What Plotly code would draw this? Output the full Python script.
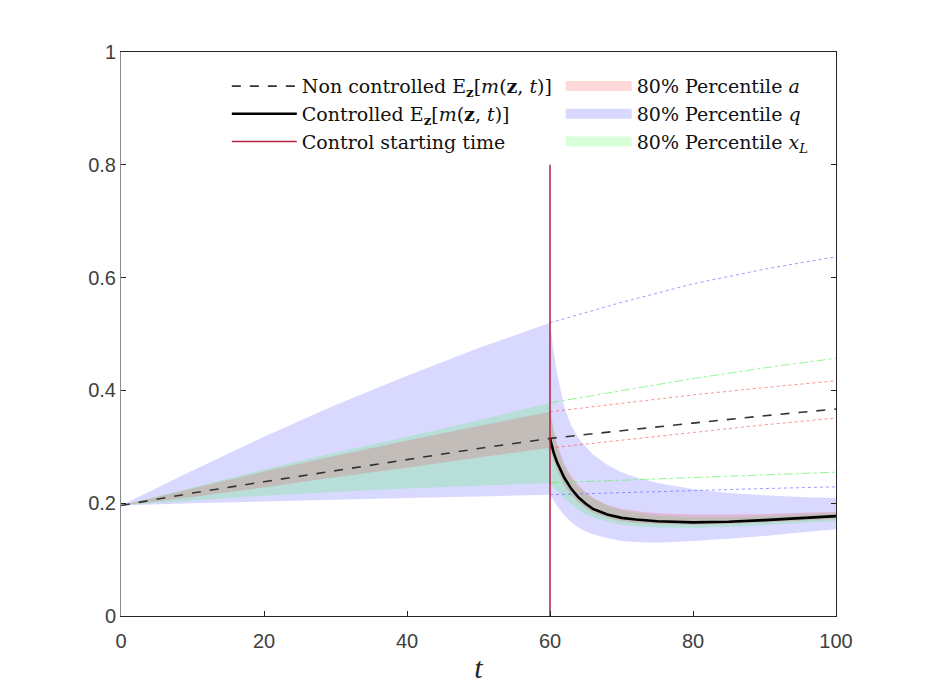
import plotly.graph_objects as go

# time grids
t_open = [0, 10, 20, 30, 40, 50, 60, 70, 80, 90, 100]
t_ctrl = [60, 60.5, 61, 62, 63, 64, 65, 66, 68, 70, 72, 75, 80, 85, 90, 95, 100]
t_start = 60
start_line_y = [0, 0.8]

# non controlled mean and 80% percentiles
m_open = [0.196, 0.218, 0.238, 0.258, 0.278, 0.297, 0.315, 0.329, 0.342, 0.355, 0.367]
a_lo_open = [0.196, 0.211, 0.228, 0.246, 0.263, 0.281, 0.298, 0.312, 0.326, 0.339, 0.351]
a_hi_open = [0.196, 0.226, 0.256, 0.284, 0.311, 0.337, 0.362, 0.377, 0.392, 0.405, 0.417]
q_lo_open = [0.196, 0.200, 0.203, 0.206, 0.209, 0.212, 0.215, 0.219, 0.223, 0.226, 0.229]
q_hi_open = [0.196, 0.258, 0.318, 0.374, 0.426, 0.475, 0.520, 0.556, 0.589, 0.615, 0.637]
xl_lo_open = [0.196, 0.205, 0.213, 0.220, 0.226, 0.231, 0.236, 0.241, 0.246, 0.250, 0.255]
xl_hi_open = [0.196, 0.228, 0.260, 0.290, 0.318, 0.347, 0.378, 0.400, 0.421, 0.440, 0.457]

# controlled mean and 80% percentiles
m_ctrl = [0.315, 0.290, 0.272, 0.245, 0.225, 0.210, 0.199, 0.190, 0.180, 0.174, 0.171,
          0.168, 0.166, 0.167, 0.170, 0.173, 0.177]
a_lo_ctrl = [0.298, 0.275, 0.258, 0.232, 0.214, 0.201, 0.191, 0.183, 0.174, 0.168, 0.165,
             0.163, 0.162, 0.163, 0.166, 0.169, 0.172]
a_hi_ctrl = [0.362, 0.330, 0.305, 0.270, 0.248, 0.232, 0.220, 0.210, 0.197, 0.190, 0.186,
             0.182, 0.180, 0.180, 0.181, 0.183, 0.185]
q_lo_ctrl = [0.215, 0.205, 0.195, 0.178, 0.166, 0.157, 0.150, 0.145, 0.138, 0.133, 0.131,
             0.130, 0.133, 0.137, 0.142, 0.148, 0.154]
q_hi_ctrl = [0.520, 0.470, 0.430, 0.370, 0.337, 0.315, 0.300, 0.287, 0.268, 0.255, 0.246,
             0.236, 0.225, 0.218, 0.214, 0.211, 0.209]
xl_lo_ctrl = [0.236, 0.228, 0.222, 0.210, 0.198, 0.188, 0.180, 0.175, 0.167, 0.162, 0.159,
              0.157, 0.156, 0.158, 0.161, 0.165, 0.168]
xl_hi_ctrl = [0.378, 0.330, 0.300, 0.265, 0.243, 0.228, 0.217, 0.208, 0.196, 0.188, 0.183,
              0.178, 0.175, 0.175, 0.177, 0.180, 0.183]

n_pre = t_open.index(t_start) + 1


def band(lo_open, hi_open, lo_ctrl, hi_ctrl):
    # open loop up to the control start, controlled afterwards
    tt = t_open[:n_pre] + t_ctrl[1:]
    lo = lo_open[:n_pre] + lo_ctrl[1:]
    hi = hi_open[:n_pre] + hi_ctrl[1:]
    return tt + tt[::-1], hi + lo[::-1]


serif = "DejaVu Serif"
fig = go.Figure()

# percentile bands (drawn q, x_L, a so the overlaps blend like the original)
bands = [
    ("80% Percentile <i>q</i>", q_lo_open, q_hi_open, q_lo_ctrl, q_hi_ctrl, "rgba(0,0,255,0.15)", 2),
    ("80% Percentile <i>x</i><sub><i>L</i></sub>", xl_lo_open, xl_hi_open, xl_lo_ctrl, xl_hi_ctrl, "rgba(0,255,0,0.15)", 3),
    ("80% Percentile <i>a</i>", a_lo_open, a_hi_open, a_lo_ctrl, a_hi_ctrl, "rgba(255,0,0,0.15)", 1),
]
for name, lo_o, hi_o, lo_c, hi_c, col, rank in bands:
    bx, by = band(lo_o, hi_o, lo_c, hi_c)
    fig.add_trace(go.Scatter(x=bx, y=by, fill="toself", fillcolor=col, mode="none",
                             showlegend=False, hoverinfo="skip"))
    # legend swatch
    fig.add_trace(go.Scatter(x=[None], y=[None], mode="lines", name=name,
                             line=dict(color=col, width=18),
                             legend="legend2", legendrank=rank))

# non controlled percentile continuations after the control starts
t_after = t_open[n_pre - 1:]
conts = [
    (q_hi_open, "rgba(90,90,255,0.6)", "dot"), (q_lo_open, "rgba(90,90,255,0.6)", "dot"),
    (xl_hi_open, "rgba(90,240,90,0.65)", "dashdot"), (xl_lo_open, "rgba(90,240,90,0.65)", "dashdot"),
    (a_hi_open, "rgba(255,70,70,0.6)", "dot"), (a_lo_open, "rgba(255,70,70,0.6)", "dot"),
]
for vals, col, dash in conts:
    fig.add_trace(go.Scatter(x=t_after, y=vals[n_pre - 1:], mode="lines",
                             line=dict(color=col, width=1, dash=dash), showlegend=False))

fig.add_trace(go.Scatter(x=t_open, y=m_open, mode="lines",
                         line=dict(color="#333333", width=1.6, dash="dash"),
                         name="Non controlled E<sub><b>z</b></sub>[<i>m</i>(<b>z</b>, <i>t</i>)]",
                         legendrank=1))
fig.add_trace(go.Scatter(x=t_ctrl, y=m_ctrl, mode="lines",
                         line=dict(color="black", width=2.6),
                         name="Controlled E<sub><b>z</b></sub>[<i>m</i>(<b>z</b>, <i>t</i>)]",
                         legendrank=2))
fig.add_trace(go.Scatter(x=[t_start, t_start], y=start_line_y, mode="lines",
                         line=dict(color="#B02040", width=1.5),
                         name="Control starting time", legendrank=3))

legend_font = dict(family=serif, size=19, color="#111111")
fig.update_layout(
    width=910, height=679,
    paper_bgcolor="white", plot_bgcolor="white",
    margin=dict(l=113, r=82, t=44, b=71),
    legend=dict(x=0.148, y=0.973, xanchor="left", yanchor="top", font=legend_font,
                bgcolor="rgba(0,0,0,0)", itemwidth=65, tracegroupgap=0),
    legend2=dict(x=0.615, y=0.973, xanchor="left", yanchor="top", font=legend_font,
                 bgcolor="rgba(0,0,0,0)", itemwidth=66, tracegroupgap=0),
    xaxis=dict(range=[0, 100], tickvals=[0, 20, 40, 60, 80, 100], automargin=False,
               showgrid=False, zeroline=False, showline=True, linecolor="#262626",
               linewidth=1, mirror=True, ticks="inside", ticklen=5, tickcolor="#262626",
               ticklabelstandoff=7,
               tickfont=dict(family="Liberation Sans", size=20, color="#404040"),
               title=dict(text="<i>t</i>", font=dict(family="Liberation Serif", size=30,
                                                     color="#262626"), standoff=5)),
    yaxis=dict(range=[0, 1], tickvals=[0, 0.2, 0.4, 0.6, 0.8, 1], automargin=False,
               ticktext=["0", "0.2", "0.4", "0.6", "0.8", "1"],
               showgrid=False, zeroline=False, showline=True, linecolor="#8c8c8c",
               linewidth=1, mirror=False, ticks="inside", ticklen=5, tickcolor="#262626",
               tickfont=dict(family="Liberation Sans", size=20, color="#404040")),
    yaxis2=dict(overlaying="y", side="right", range=[0, 1], showline=True, automargin=False,
                linecolor="#262626", showticklabels=False, ticks="inside",
                ticklen=5, tickvals=[0, 0.2, 0.4, 0.6, 0.8, 1],
                tickcolor="#262626", showgrid=False, zeroline=False),
    showlegend=True,
)
# dummy trace so the right box edge is drawn
fig.add_trace(go.Scatter(x=[None], y=[None], yaxis="y2", showlegend=False))

fig.write_html("out.html")
